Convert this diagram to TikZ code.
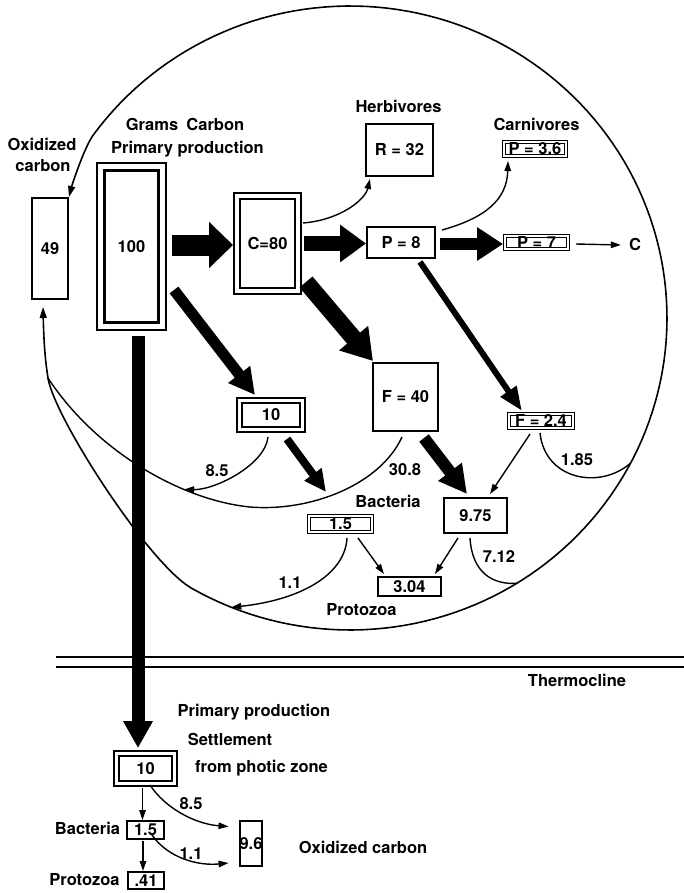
\documentclass[tikz,border=0pt]{standalone}
\usepackage{fontspec}
\setmainfont{TeX Gyre Heros}
\usetikzlibrary{arrows.meta,calc}
\begin{document}
\begin{tikzpicture}[x=1pt,y=-1pt,
  every node/.style={font=\fontsize{16.5}{20}\selectfont\bfseries, inner sep=0pt},
  lbl/.style={text height=11.5pt, text depth=0pt},
  box/.style={draw, line width=2pt, text height=11.5pt, text depth=0pt},
  dbox/.style n args={3}{draw, double, line width=#1pt, double distance=#2pt,
    outer sep=#3pt, text height=11.5pt, text depth=0pt},
  fat/.style n args={3}{line width=#1pt, -{Triangle[width=#2pt,length=#3pt]}},
  arr/.style={line width=1.4pt, -{Triangle[length=10pt,width=6.5pt]}},
  flow/.style={line width=1.4pt},
  loopline/.style={line width=1.6pt,
    {Triangle[length=11pt,width=7pt]}-{Triangle[length=11pt,width=7pt]}},
]
\useasboundingbox (0,0) rectangle (684,893);
\fill[white] (0,0) rectangle (684,893);

% ---------- compartments of the photic zone ----------
\node[box, minimum width=36pt, minimum height=101pt] (ox49) at (50,248.5) {49};
\node[dbox={2.4}{5}{4.9}, minimum width=61.2pt, minimum height=159.2pt] (p100) at (131.5,246.5) {100};
\node[dbox={2.2}{4}{4.2}, minimum width=60.6pt, minimum height=94.6pt] (c80) at (267.5,243.5) {C=80};
\node[box, minimum width=67pt, minimum height=52pt] (r32) at (399.5,150) {R = 32};
\node[dbox={1.4}{1.2}{2}, minimum width=62pt, minimum height=14pt] (p36) at (535,149) {P = 3.6};
\node[box, minimum width=68pt, minimum height=31pt] (p8) at (401,242.5) {P = 8};
\node[dbox={1.4}{1.2}{2}, minimum width=63pt, minimum height=13pt] (p7) at (536.5,242.5) {P = 7};
\node[box, minimum width=65pt, minimum height=68pt] (f40) at (405.5,397) {F = 40};
\node[dbox={1.4}{1.2}{2}, minimum width=64pt, minimum height=14pt] (f24) at (541,421) {F = 2.4};
\node[dbox={2}{3}{3.5}, minimum width=63pt, minimum height=29pt] (ten) at (271,415) {10};
\node[dbox={1.4}{1.2}{2}, minimum width=63pt, minimum height=16pt] (b15) at (340.5,524) {1.5};
\node[box, minimum width=63pt, minimum height=35pt] (n975) at (475.5,515.5) {9.75};
\node[box, line width=2.4pt, minimum width=62.6pt, minimum height=18.6pt] (n304) at (409.5,586.5) {3.04};

% ---------- compartments below the thermocline ----------
\node[dbox={2}{3}{3.5}, minimum width=58pt, minimum height=30pt] (ten2) at (145.5,768.5) {10};
\node[box, minimum width=37pt, minimum height=18pt] (b15b) at (145.5,830) {1.5};
\node[box, minimum width=36pt, minimum height=17pt] (p41) at (146,880.5) {.41};
\node[box, minimum width=22pt, minimum height=45pt] (ox96) at (251,843.5) {9.6};

% ---------- labels ----------
\node[lbl] (oxA) at (42,145) {Oxidized};
\node[lbl] (oxB) at (43,166) {carbon};
\node[lbl] (grams) at (185,125) {Grams\hspace{0.5em}Carbon};
\node[lbl] (primprod) at (187.5,148) {Primary production};
\node[lbl] (herb) at (398.5,106.5) {Herbivores};
\node[lbl] (carn) at (536.5,124.5) {Carnivores};
\node[lbl] (cout) at (635,245) {C};
\node[lbl] (l85) at (217,471) {8.5};
\node[lbl] (l308) at (405,470) {30.8};
\node[lbl] (l185) at (577,460) {1.85};
\node[lbl] (bact) at (388,502) {Bacteria};
\node[lbl] (l11) at (290,583) {1.1};
\node[lbl] (l712) at (499,557) {7.12};
\node[lbl] (proto) at (361.5,610) {Protozoa};
\node[lbl] (thermo) at (577,681) {Thermocline};
\node[lbl] (pp2) at (254,711) {Primary production};
\node[lbl] (settle) at (230,740) {Settlement};
\node[lbl] (photic) at (261.5,766.5) {from photic zone};
\node[lbl] (l85b) at (191,804) {8.5};
\node[lbl] (l11b) at (191,854) {1.1};
\node[lbl] (bactb) at (87.5,829) {Bacteria};
\node[lbl] (protob) at (84.5,880) {Protozoa};
\node[lbl] (oxc) at (363,848) {Oxidized carbon};

% ---------- thermocline ----------
\draw[line width=1.6pt] (56,657) -- (684,657);
\draw[line width=1.6pt] (56,667) -- (684,667);

% ---------- merge points on the return loops ----------
\coordinate (jn) at (48,378);
\coordinate (m85) at (184,489.5);
\coordinate (m11) at (231.3,607.3);
\coordinate (m712) at (517,583.3);
\coordinate (m185) at (630.7,463);

% big return loop to oxidized carbon
\draw[loopline]
  ($(ox49.south)+(-7,7)$) .. controls (44,350) and (46,365) .. (jn)
  .. controls (54,417) and (148,563) .. (191.5,588.2)
  -- plot[domain=-120:144, samples=140, variable=\t] ({350+317*cos(\t)},{318-312*sin(\t)})
  .. controls (84.5,146.6) and (72,185) .. (ox49.north east);

% respiration returns
\draw[flow] ($(f40.south)+(-3.5,5)$) .. controls (380,485) and (310,512) .. (250,507)
  .. controls (180,500) and (95,450) .. (jn);
\draw[arr] ($(ten.south)+(-3,4)$) .. controls (265,465) and (215,490) .. (m85);
\draw[arr] ($(b15.south)+(6.5,4)$) .. controls (345,575) and (300,600) .. (m11);
\draw[flow] ($(n975.south)+(-5.5,4)$) .. controls (472,572) and (492,585) .. (m712);
\draw[flow] ($(f24.south)+(-1,3)$) .. controls (545,480) and (600,490) .. (m185);

% ---------- main carbon flows ----------
\draw[fat={21}{45}{24}] ($(p100.east)+(5,-1.5)$) -- ($(c80.west)+(0,1.5)$);
\draw[fat={15}{36}{26}] ($(c80.east)+(2,0)$) -- ($(p8.west)+(0,1)$);
\draw[fat={12}{32}{26}] ($(p8.east)+(4,1.5)$) -- ($(p7.west)+(0,1.5)$);
\draw[fat={17}{36}{30}] ($(c80.south east)+(4,-13)$) -- ($(f40.north west)+(1,-1)$);
\draw[fat={11}{26}{26}] ($(p100.south east)+(7,-41)$) -- ($(ten.north)+(-16,-2)$);
\draw[fat={6}{18}{24}] ($(p8.south)+(19,3)$) -- ($(f24.north)+(-19,-1)$);
\draw[fat={8}{20}{22}] ($(ten.south)+(16,6)$) -- ($(b15.north)+(-14.5,-22)$);
\draw[fat={12}{28}{28}] ($(f40.south)+(18.5,6)$) -- ($(n975.north)+(-8.5,-3)$);
\draw[fat={13}{28}{27}] ($(p100.south)+(6.5,5)$) -- ($(ten2.north)+(-7.5,-2)$);

% ---------- minor flows ----------
\draw[arr] ($(c80.east)+(1,-20.5)$) .. controls (340,220) and (365,200) .. ($(r32.south west)+(5,2)$);
\draw[arr] ($(p8.east)+(6,-12.5)$) .. controls (485,218) and (507,200) .. ($(p36.south west)+(6,3)$);
\draw[arr] ($(p7.east)+(6,1.5)$) -- ($(cout.west)+(-8,0)$);
\draw[arr] ($(f24.south)+(-11,4)$) -- ($(n975.north)+(14.5,-3)$);
\draw[arr] ($(b15.south)+(17.5,4)$) -- ($(n304.north)+(-25.5,-2)$);
\draw[arr] ($(n975.south)+(-17.5,4)$) -- ($(n304.north)+(25.5,-2)$);

% ---------- below the thermocline ----------
\draw[arr] ($(ten2.south)+(-3,1)$) -- ($(b15b.north)+(-3,0)$);
\draw[arr] ($(b15b.south)+(-2.5,1)$) -- ($(p41.north)+(-3,0)$);
\draw[arr] ($(ten2.south)+(4.5,-2)$) .. controls (165,808) and (195,824) .. ($(ox96.west)+(-10,-17)$);
\draw[arr] ($(b15b.south east)+(-13,-5)$) .. controls (168,858) and (198,866) .. ($(ox96.west)+(-10,19.5)$);
\end{tikzpicture}
\end{document}
